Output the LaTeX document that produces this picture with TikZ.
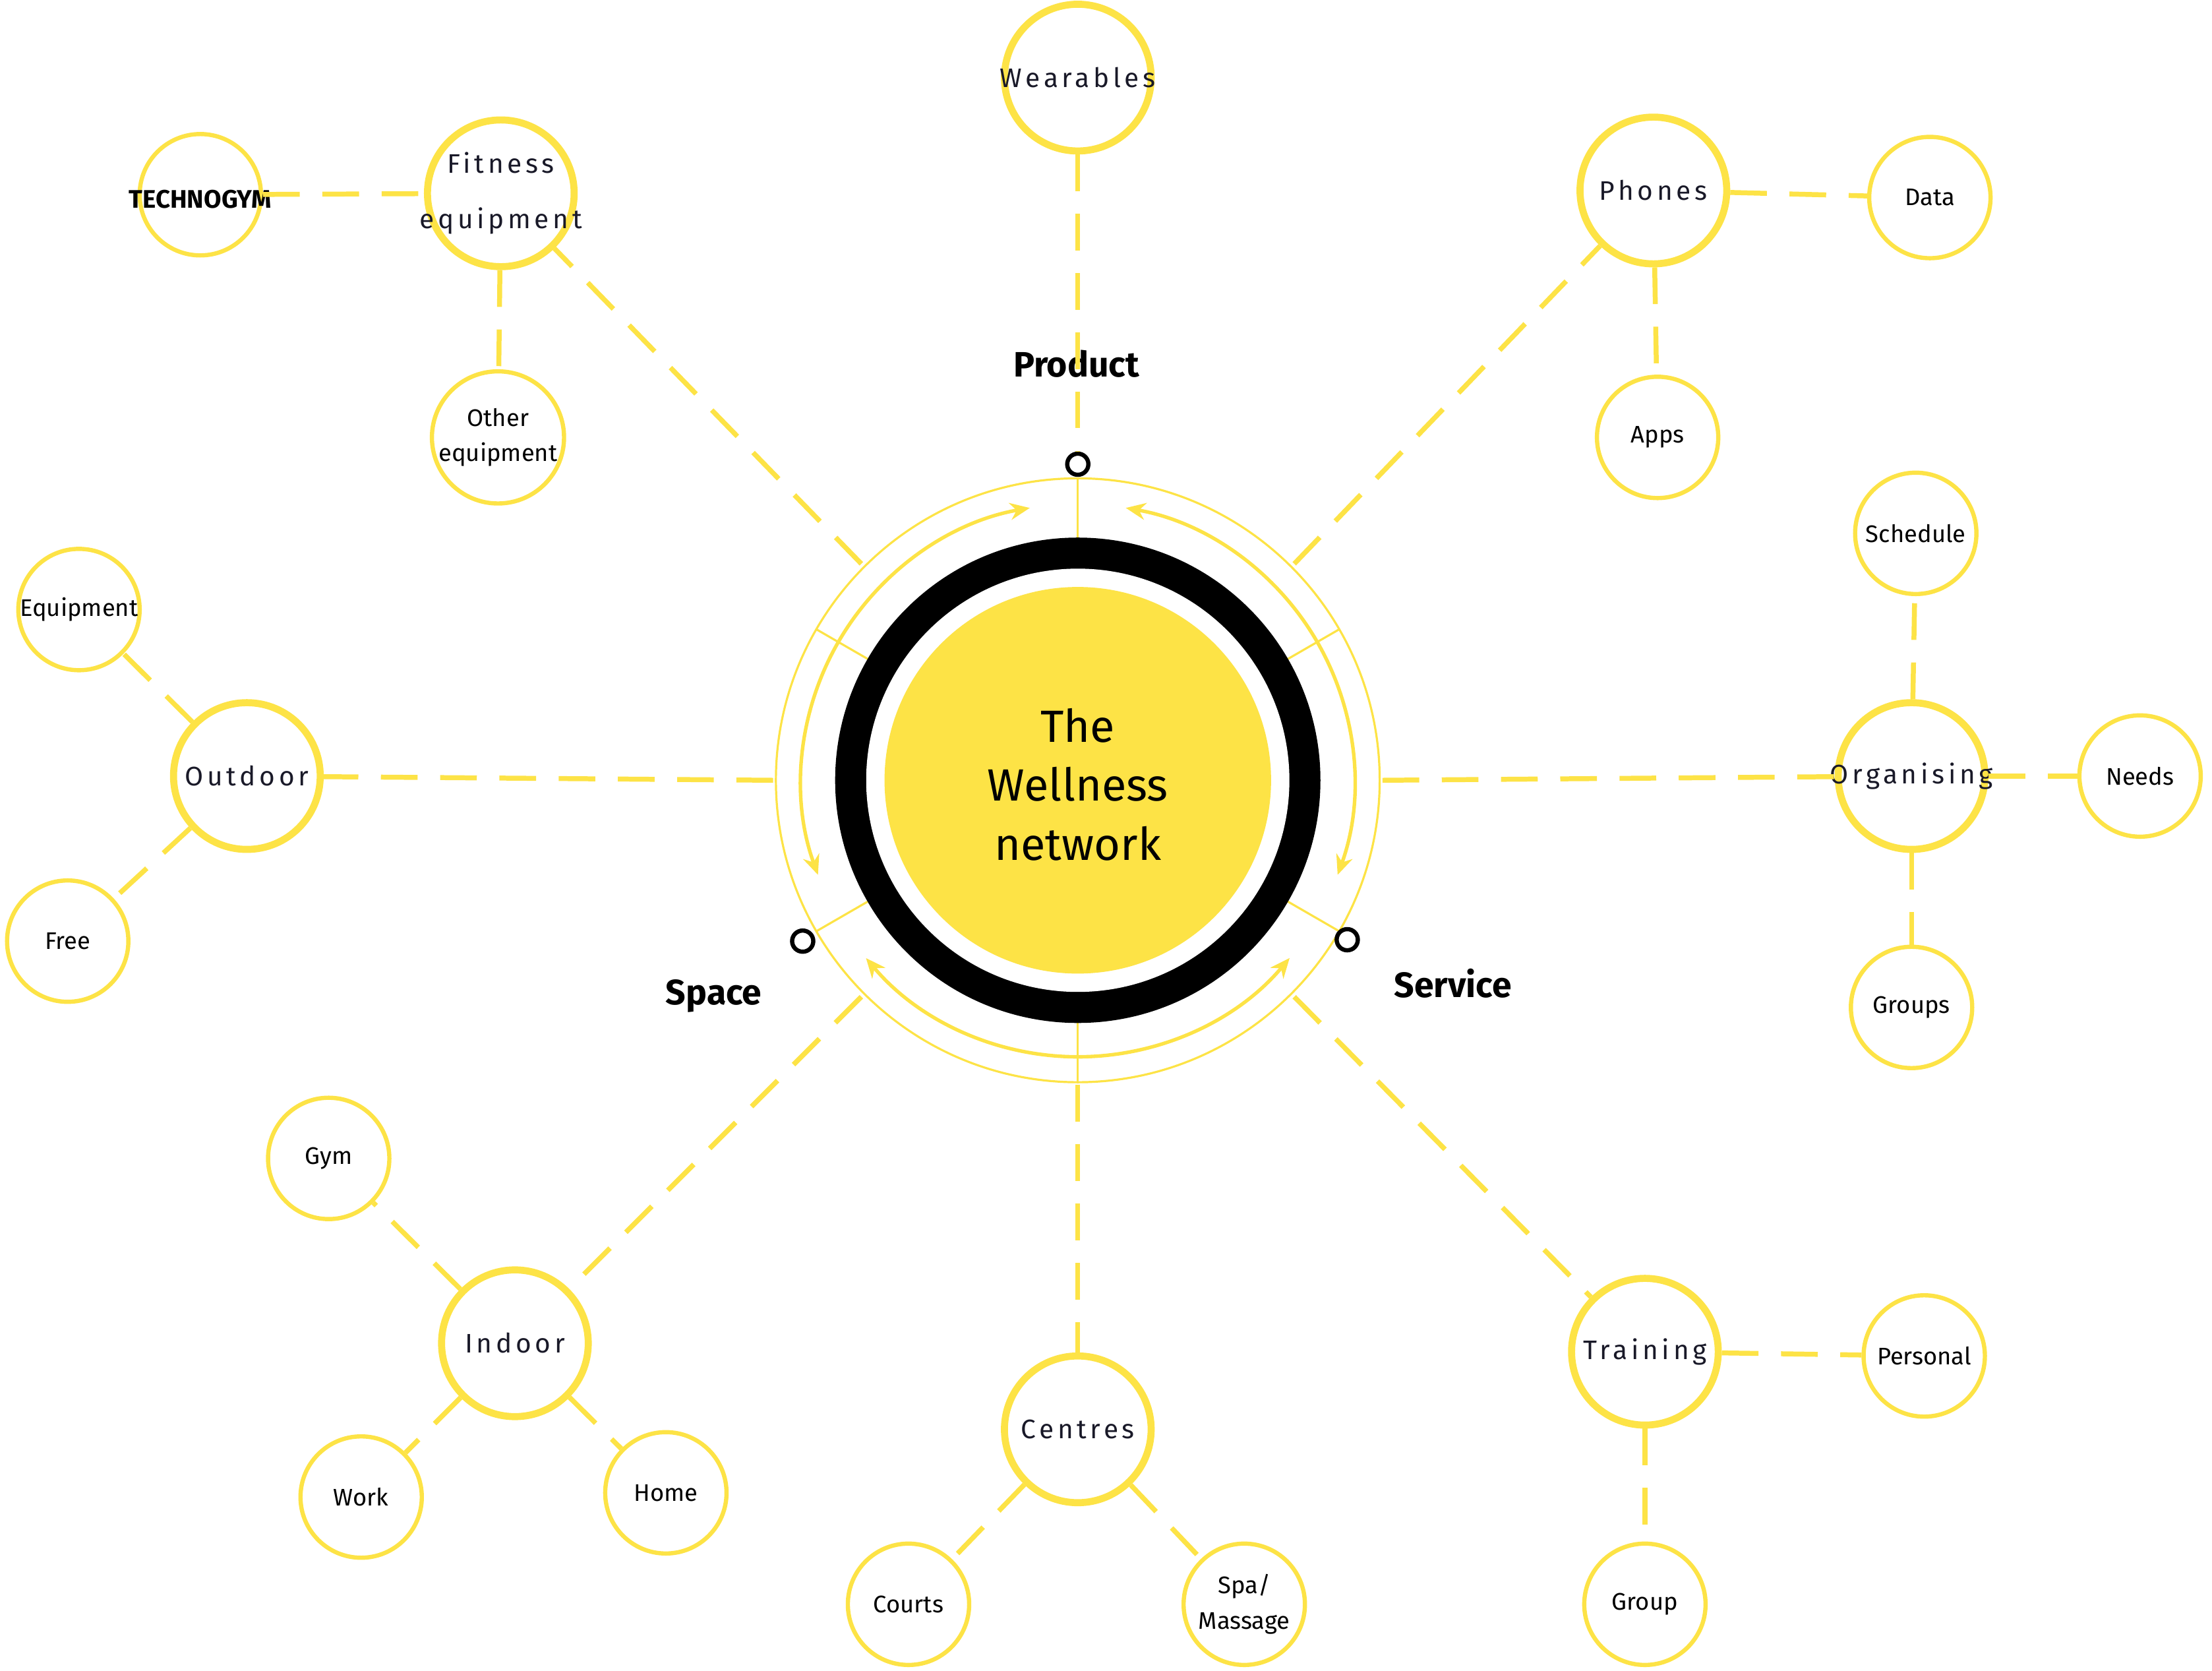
\documentclass[tikz,border=0pt]{standalone}
\usepackage{fontspec}
\setmainfont{Fira Sans}
\newfontfamily\spaced[LetterSpace=14]{Fira Sans}
\usetikzlibrary{arrows.meta,calc}
\definecolor{yel}{RGB}{253,227,70}
\definecolor{ink}{RGB}{25,25,40}
\tikzset{
  prim/.style={circle,draw=yel,line width=5pt,minimum size=104pt,inner sep=0pt,
    label={[align=center,font=\spaced\fontsize{19}{39}\selectfont,text=ink]center:#1}},
  sec/.style={circle,draw=yel,line width=3pt,minimum size=86pt,inner sep=0pt,align=center,font=\fontsize{17}{25}\selectfont,text=black},
  dl/.style={draw=yel,line width=3.5pt,dash pattern=on 26pt off 16pt},
  arc/.style={draw=yel,line width=2.5pt,-{Stealth[length=14pt,width=12pt]}},
  lbl/.style={font=\bfseries\fontsize{25}{28}\selectfont},
  dot/.style={circle,draw=black,line width=3pt,fill=white,minimum size=15pt,inner sep=0pt}
}
\begin{document}
\begin{tikzpicture}[x=1pt,y=-1pt]
\useasboundingbox (0,0) rectangle (1568,1184);
\coordinate (c) at (764,553);
% hub
\draw[yel,line width=1.5pt] (c) circle (214);
\foreach \a in {90,150,30,210,330,270}
  \draw[yel,line width=1.5pt] ($(c)+(\a:172)$) -- ($(c)+(\a:214)$);
\fill[black] (c) circle (172);
\fill[white] (c) circle (150);
\fill[yel] (c) circle (137);
\node[align=center,font=\fontsize{32}{42}\selectfont,text=black] (hub) at (764,556) {The\\Wellness\\network};
% arrow arcs
\draw[arc] ($(c)+(-150:196)$) arc[start angle=-150,end angle=-100,radius=196];
\draw[arc] ($(c)+(-150:196)$) arc[start angle=-150,end angle=-200,radius=196];
\draw[arc] ($(c)+(-30:196)$) arc[start angle=-30,end angle=-80,radius=196];
\draw[arc] ($(c)+(-30:196)$) arc[start angle=-30,end angle=20,radius=196];
\draw[arc] ($(c)+(90:196)$) arc[start angle=90,end angle=140,radius=196];
\draw[arc] ($(c)+(90:196)$) arc[start angle=90,end angle=40,radius=196];
% outer anchor coordinates
\coordinate (oF) at ($(c)+(-135:217)$);
\coordinate (oP) at ($(c)+(-45:217)$);
\coordinate (oO) at ($(c)+(180:216)$);
\coordinate (oG) at ($(c)+(0:216)$);
\coordinate (oI) at ($(c)+(135:217)$);
\coordinate (oC) at ($(c)+(90:216)$);
\coordinate (oT) at ($(c)+(45:217)$);
% dots
\node[dot] (dp) at (764,329) {};
\node[dot] (ds) at (569,667) {};
\node[dot] (dv) at (955,666) {};
\node[lbl] (lp) at (763,258) {Product};
\node[lbl] (ls) at (506,706) {Space};
\node[lbl] (lv) at (1030,697) {Service};
% primaries
\node[prim={Wearables}] (wear) at (764,55) {};
\node[prim={Fitness\\equipment}] (fit) at (355,137) {};
\node[prim={Phones}] (pho) at (1172,135) {};
\node[prim={Outdoor}] (out) at (175,550) {};
\node[prim={Organising}] (org) at (1355,550) {};
\node[prim={Indoor}] (ind) at (365,952) {};
\node[prim={Centres}] (cen) at (764,1013) {};
\node[prim={Training}] (tra) at (1166,958) {};
% secondaries
\node[sec] (tg) at (142,138) {};
\node[font=\bfseries\fontsize{18}{20}\selectfont] (tgt) at (142,141) {TECHNOGYM};
\node[sec] (oth) at (353,310) {Other\\equipment};
\node[sec] (dat) at (1368,140) {Data};
\node[sec] (app) at (1175,310) {Apps};
\node[sec] (eqp) at (56,432) {Equipment};
\node[sec] (fre) at (48,667) {Free};
\node[sec] (sch) at (1358,378) {Schedule};
\node[sec] (nee) at (1517,550) {Needs};
\node[sec] (grs) at (1355,714) {Groups};
\node[sec] (gym) at (233,821) {Gym};
\node[sec] (wrk) at (256,1061) {Work};
\node[sec] (hom) at (472,1058) {Home};
\node[sec] (cou) at (644,1137) {Courts};
\node[sec] (spa) at (882,1137) {Spa/\\Massage};
\node[sec] (per) at (1364,961) {Personal};
\node[sec] (grp) at (1166,1137) {Group};
% connectors hub
\path[dl] (wear) -- (dp);
\path[dl] (oF) -- (fit);
\path[dl] (oP) -- (pho);
\path[dl] (oO) -- (out);
\path[dl] (oG) -- (org);
\path[dl] (oI) -- (ind);
\path[dl] (oC) -- (cen);
\path[dl] (oT) -- (tra);
% secondary connectors
\path[dl] (tg) -- (fit);
\path[dl] (fit) -- (oth);
\path[dl] (pho) -- (dat);
\path[dl] (pho) -- (app);
\path[dl] (out) -- (eqp);
\path[dl] (out) -- (fre);
\path[dl] (org) -- (sch);
\path[dl] (org) -- (nee);
\path[dl] (org) -- (grs);
\path[dl] (ind) -- (gym);
\path[dl] (ind) -- (wrk);
\path[dl] (ind) -- (hom);
\path[dl] (cen) -- (cou);
\path[dl] (cen) -- (spa);
\path[dl] (tra) -- (per);
\path[dl] (tra) -- (grp);
\end{tikzpicture}
\end{document}
